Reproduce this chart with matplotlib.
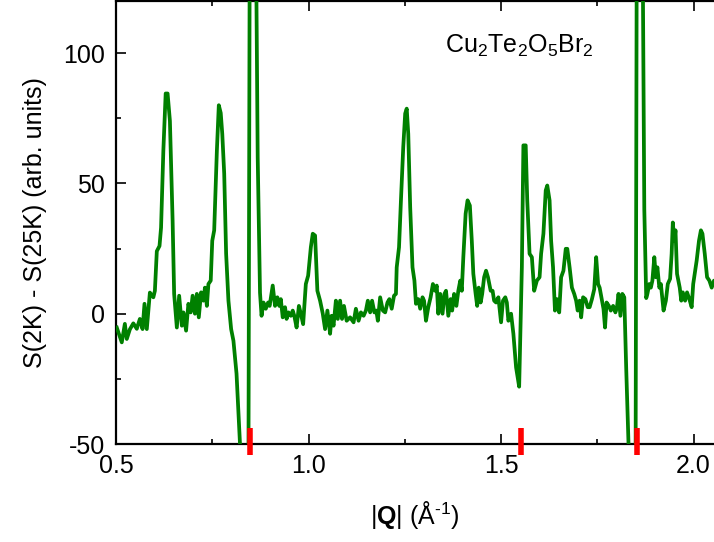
import numpy as np
import matplotlib
matplotlib.use("Agg")
import matplotlib.pyplot as plt
from matplotlib.ticker import MultipleLocator, FormatStrFormatter

plt.rcParams['font.family'] = ['Liberation Sans', 'DejaVu Sans']
plt.rcParams['mathtext.fontset'] = 'custom'
plt.rcParams['mathtext.rm'] = 'Liberation Sans'
plt.rcParams['mathtext.bf'] = 'Liberation Sans:bold'
plt.rcParams['axes.unicode_minus'] = False

# difference curve
q = [0.502, 0.515, 0.523, 0.528, 0.536, 0.545, 0.554, 0.562, 0.569, 0.574,
     0.580, 0.588, 0.597, 0.601, 0.606, 0.613, 0.617, 0.623, 0.629, 0.634,
     0.640, 0.647, 0.651, 0.658, 0.664, 0.671, 0.675, 0.682, 0.688, 0.694,
     0.699, 0.705, 0.710, 0.715, 0.721, 0.727, 0.731, 0.736, 0.740, 0.746,
     0.750, 0.755, 0.762, 0.767, 0.772, 0.776, 0.781, 0.786, 0.792, 0.799,
     0.805, 0.813, 0.822, 0.830, 0.837, 0.8425, 0.849, 0.855, 0.861, 0.868,
     0.874, 0.878, 0.883, 0.889, 0.895, 0.899, 0.907, 0.913, 0.919, 0.924,
     0.928, 0.933, 0.939, 0.943, 0.948, 0.954, 0.959, 0.963, 0.969, 0.975,
     0.980, 0.986, 0.993, 0.999, 1.006, 1.011, 1.017, 1.023, 1.030, 1.037,
     1.043, 1.049, 1.056, 1.060, 1.065, 1.071, 1.076, 1.082, 1.087, 1.092,
     1.099, 1.108, 1.117, 1.123, 1.130, 1.136, 1.143, 1.149, 1.154, 1.160,
     1.165, 1.171, 1.176, 1.180, 1.186, 1.193, 1.199, 1.205, 1.210, 1.216,
     1.222, 1.227, 1.229, 1.235, 1.240, 1.246, 1.251, 1.255, 1.259, 1.264,
     1.270, 1.275, 1.279, 1.285, 1.290, 1.296, 1.300, 1.305, 1.311, 1.317,
     1.323, 1.329, 1.333, 1.337, 1.342, 1.348, 1.353, 1.357, 1.363, 1.369,
     1.373, 1.378, 1.384, 1.389, 1.394, 1.398, 1.402, 1.408, 1.413, 1.419,
     1.424, 1.428, 1.434, 1.438, 1.442, 1.447, 1.451, 1.456, 1.461, 1.466,
     1.473, 1.478, 1.482, 1.487, 1.493, 1.500, 1.505, 1.511, 1.515, 1.519,
     1.526, 1.532, 1.539, 1.547, 1.554, 1.558, 1.564, 1.568, 1.574, 1.580,
     1.586, 1.593, 1.600, 1.604, 1.610, 1.616, 1.620, 1.626, 1.630, 1.635,
     1.640, 1.645, 1.651, 1.656, 1.662, 1.668, 1.672, 1.678, 1.684, 1.690,
     1.695, 1.699, 1.704, 1.708, 1.713, 1.719, 1.725, 1.730, 1.736, 1.742,
     1.747, 1.752, 1.756, 1.762, 1.766, 1.770, 1.774, 1.780, 1.785, 1.791,
     1.797, 1.801, 1.805, 1.810, 1.815, 1.820, 1.825, 1.831, 1.838, 1.843,
     1.848, 1.854, 1.860, 1.866, 1.872, 1.877, 1.880, 1.885, 1.889, 1.893,
     1.898, 1.902, 1.906, 1.911, 1.915, 1.922, 1.928, 1.933, 1.939, 1.943,
     1.946, 1.950, 1.953, 1.957, 1.964, 1.968, 1.972, 1.978, 1.983, 1.989,
     1.995, 1.999, 2.008, 2.014, 2.019, 2.023, 2.029, 2.035, 2.041, 2.047,
     2.053, 2.060]
s = [-5.3, -11, -3.9, -9.7, -6, -3.7, -5.8, -2, -5.9, 3.8,
     -5.9, 8.1, 6.3, 8.8, 24, 26, 33, 62.7, 84.5, 84.5,
     74, 35.8, 7.6, -5.3, 6.9, -4.6, 0.5, -6.5, 3.8, 0.5,
     6.9, 0, 7.6, -1.4, 8.2, 5, 10, 3, 11.4, 12.7,
     28, 32, 62.7, 80, 77, 69, 53.8, 23, 5, -5.9,
     -10.4, -23, -50, -95, -140, -150, 250, 260, 190, 60,
     8, -0.8, 4.3, 1.9, 4.3, 3, 10.8, 3, 6.3, 3,
     5.6, -1.4, 2.5, -2, 0.5, -0.8, 1.2, -0.8, -5.3, 3,
     0, -4, 11.4, 14.6, 25.5, 30.7, 30, 8.8, 5, 0,
     -5.9, 1.2, -7.7, -0.8, -4.6, 5, -2, 5, -2, 3,
     -2.7, -1.4, -3.3, 1.9, -2.7, 0.5, -0.8, 1.2, 5, 0.5,
     5, 0.5, 1.2, -2.7, 6.3, 1.2, 0.5, 4.3, 5.6, 1.9,
     6.9, 7.6, 17.8, 25.5, 43.5, 64, 76.8, 78.7, 69, 40.9,
     17.8, 12.7, 3.8, 5.6, 1.9, 6.3, 5, -2.7, 2.5, 6.3,
     11.4, 8.8, 10.8, 0, 7.6, 0, 7.6, 8.8, -0.8, 5.6,
     1.2, 7.6, 3, 8.8, 12.7, 8.8, 21.7, 38.4, 43.5, 41.5,
     28, 15.3, 7.6, 3, 10, 4.3, 7.6, 14, 16.5, 14,
     8.8, 8.8, 5, 4.3, 6.3, -3.3, 5, 6.3, 4.3, -2.7,
     0, -7.7, -20.6, -28, 17.8, 64.6, 64.6, 43.5, 23, 21.7,
     8.8, 12.7, 14, 23, 30.7, 47.3, 49.2, 43.5, 28, 17.8,
     1.2, 5.6, 0.5, 14, 16.5, 24.9, 24.9, 17.8, 10, 7.6,
     5, 1.2, 5, -1.4, 6.3, 5.6, 2.5, 2.5, 5.6, 9.4,
     21.7, 11.4, 10, 5, 1.9, -5.3, 4.3, 3, 1.2, 3,
     0.5, 2.5, 7.6, -0.8, 7.6, 6.3, -21, -50, -100, -130,
     -150, 250, 260, 180, 40, 6, 7.6, 11.4, 10, 12.7,
     21.7, 14, 17.8, 10, 11.4, 1.2, 5, 11.4, 13.4, 23,
     35, 28, 32, 15.3, 10, 5, 8.2, 5, 8.2, 5.6,
     2.5, 11.4, 20.4, 28, 32, 30.7, 23, 14, 12.7, 10,
     12.7, 12]

# nuclear peak positions (red marks)
peak_pos = [0.847, 1.553, 1.853]

fig = plt.figure(figsize=(7.14, 5.42), dpi=100)
ax = fig.add_axes([116/714, 98/542, 598/714, 443/542])

ax.plot(q, s, color='#008000', lw=2.7, zorder=3)
ax.vlines(peak_pos, -54.3, -43.8, colors='#ff0000', lw=4,
          clip_on=False, zorder=5)

ax.set_xlim(0.5, 2.053)
ax.set_ylim(-50, 120)
ax.xaxis.set_major_locator(MultipleLocator(0.5))
ax.xaxis.set_minor_locator(MultipleLocator(0.25))
ax.xaxis.set_major_formatter(FormatStrFormatter('%.1f'))
ax.yaxis.set_major_locator(MultipleLocator(50))
ax.yaxis.set_minor_locator(MultipleLocator(25))
ax.tick_params(which='both', direction='in', top=True, right=False,
               width=1.2, labelsize=18)
ax.tick_params(which='major', length=7)
ax.tick_params(which='minor', length=3.8)
ax.tick_params(axis='x', pad=7)
ax.tick_params(axis='y', pad=8)
for side in ['left', 'bottom', 'top']:
    ax.spines[side].set_linewidth(1.6)
ax.spines['right'].set_visible(False)

ax.set_ylabel('S(2K) - S(25K) (arb. units)', fontsize=18)
ax.yaxis.set_label_coords(-0.115, 0.5)
ax.set_xlabel(r'|$\mathbf{Q}$| (Å$^{\text{-1}}$)', fontsize=18)
ax.xaxis.set_label_coords(0.5, -0.125)

ax.text(0.55, 0.883, r'Cu$_2$Te$_2$O$_5$Br$_2$', transform=ax.transAxes,
        fontsize=18, ha='left', va='baseline')

fig.savefig('out.png', dpi=100)
